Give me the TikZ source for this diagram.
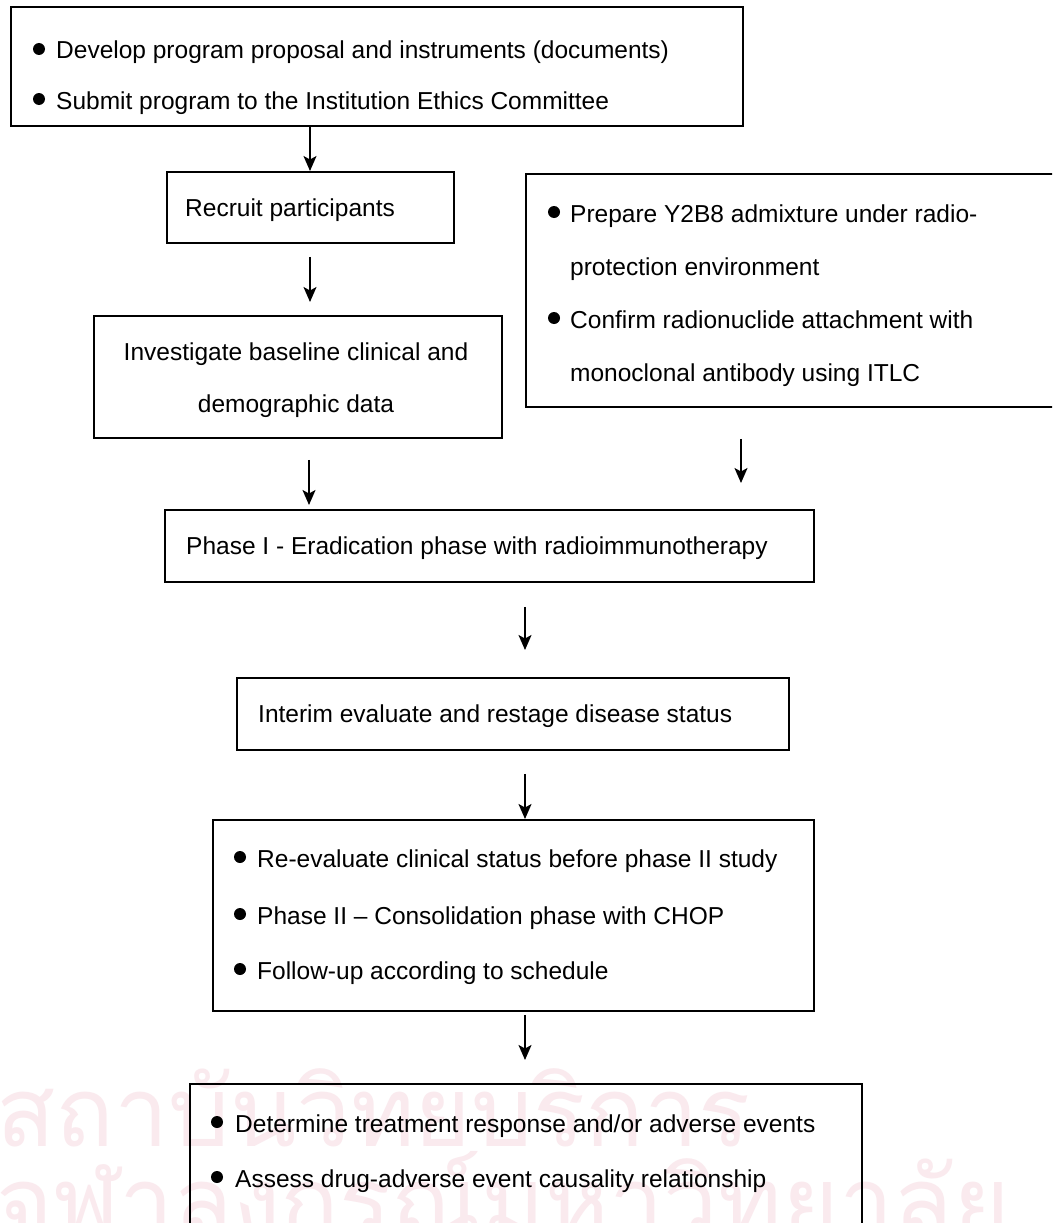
\documentclass[tikz,border=0pt]{standalone}
\usepackage{fontspec}
\setmainfont{Liberation Sans}
\newfontfamily\thaifont[Script=Thai]{Loma}
\usetikzlibrary{arrows.meta}
\definecolor{wmpink}{RGB}{250,234,238}
\tikzset{
  box/.style={draw=black, line width=1.9pt, anchor=north west, inner sep=0pt, fill=none},
  txt/.style={anchor=base west, inner sep=0pt, font=\fontsize{24.5}{29}\selectfont},
  ctxt/.style={anchor=base, inner sep=0pt, font=\fontsize{24.5}{29}\selectfont},
  dot/.style={circle, fill=black, inner sep=0pt, minimum size=12pt},
  arr/.style={-{Stealth[length=15pt,width=13pt,inset=3.5pt]}, line width=1.6pt},
  wm/.style={anchor=base west, inner sep=0pt, text=wmpink, font=\thaifont\fontsize{97}{100}\selectfont}
}
\begin{document}
\begin{tikzpicture}[x=1pt,y=-1pt]
\useasboundingbox (0,0) rectangle (1052,1223);
\clip (0,0) rectangle (1052,1223);
\fill[white] (0,0) rectangle (1052,1223);
% watermark text
\node[wm] (wm1) at (-4,1146) {สถาบันวิทยบริการ};
\node[wm] (wm2) at (-4,1236) {จุฬาลงกรณ์มหาวิทยาลัย};
% boxes
\node[box, minimum width=732pt, minimum height=119pt] (top) at (10,6) {};
\node[box, minimum width=287pt, minimum height=71pt] (recruit) at (166,171) {};
\node[box, minimum width=560pt, minimum height=233pt] (prep) at (525,173) {};
\node[box, minimum width=408pt, minimum height=122pt] (invest) at (93,315) {};
\node[box, minimum width=649pt, minimum height=72pt] (phase1) at (164,509) {};
\node[box, minimum width=552pt, minimum height=72pt] (interim) at (236,677) {};
\node[box, minimum width=601pt, minimum height=191pt] (reeval) at (212,819) {};
\node[box, minimum width=672pt, minimum height=200pt] (final) at (189,1083) {};
% texts
\node[dot] (d1) at (39,49) {};
\node[txt] (t1) at (56,59) {Develop program proposal and instruments (documents)};
\node[dot] (d2) at (39,99) {};
\node[txt] (t2) at (56,109) {Submit program to the Institution Ethics Committee};
\node[txt] (t3) at (185,216) {Recruit participants};
\node[dot] (d3) at (554,212) {};
\node[txt] (t4) at (570,222) {Prepare Y2B8 admixture under radio-};
\node[txt] (t5) at (570,275) {protection environment};
\node[dot] (d4) at (554,318) {};
\node[txt] (t6) at (570,328) {Confirm radionuclide attachment with};
\node[txt] (t7) at (570,381) {monoclonal antibody using ITLC};
\node[ctxt] (t8) at (296,360) {Investigate baseline clinical and};
\node[ctxt] (t9) at (296,412) {demographic data};
\node[txt] (t10) at (186,554) {Phase I - Eradication phase with radioimmunotherapy};
\node[txt] (t11) at (258,722) {Interim evaluate and restage disease status};
\node[dot] (d5) at (240,857) {};
\node[txt] (t12) at (257,867) {Re-evaluate clinical status before phase II study};
\node[dot] (d6) at (240,914) {};
\node[txt] (t13) at (257,924) {Phase II -- Consolidation phase with CHOP};
\node[dot] (d7) at (240,969) {};
\node[txt] (t14) at (257,979) {Follow-up according to schedule};
\node[dot] (d8) at (217,1122) {};
\node[txt] (t15) at (235,1132) {Determine treatment response and/or adverse events};
\node[dot] (d9) at (217,1177) {};
\node[txt] (t16) at (235,1187) {Assess drug-adverse event causality relationship};
% arrow columns
\coordinate (xa) at (310,0);
\coordinate (xc) at (309,0);
\coordinate (xd) at (741,0);
\coordinate (xe) at (525,0);
% connectors
\draw[arr] (top.south -| xa) -- (recruit.north -| xa);
\draw[arr, shorten <=13pt, shorten >=13pt] (recruit.south -| xa) -- (invest.north -| xa);
\draw[arr, shorten <=21pt, shorten >=4pt] (invest.south -| xc) -- (phase1.north -| xc);
\draw[arr, shorten <=31pt, shorten >=26pt] (prep.south -| xd) -- (phase1.north -| xd);
\draw[arr, shorten <=24pt, shorten >=27pt] (phase1.south -| xe) -- (interim.north -| xe);
\draw[arr, shorten <=23pt] (interim.south -| xe) -- (reeval.north -| xe);
\draw[arr, shorten <=3pt, shorten >=23pt] (reeval.south -| xe) -- (final.north -| xe);
\end{tikzpicture}
\end{document}
